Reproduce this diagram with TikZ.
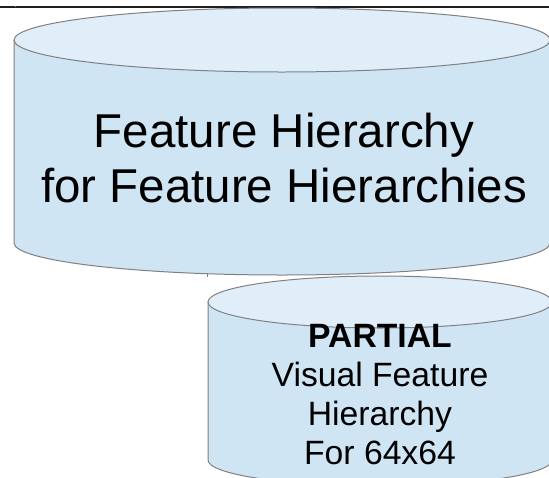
\documentclass[tikz,border=0pt]{standalone}
\usepackage{fontspec}
\setmainfont{Liberation Sans}
\definecolor{cylbody}{RGB}{207,229,244}
\definecolor{cyltop}{RGB}{224,238,249}
\definecolor{cyledge}{RGB}{128,128,128}
\definecolor{rulecol}{RGB}{30,30,30}
\tikzset{
  cylbodystyle/.style={fill=cylbody, draw=cyledge, line width=1pt, line join=round},
  cyltopstyle/.style={fill=cyltop, draw=cyledge, line width=1pt},
  bigtext/.style={anchor=base, inner sep=0pt, font=\fontsize{47.5}{54.6}\selectfont},
  smalltext/.style={anchor=base, inner sep=0pt, font=\fontsize{33.7}{38.8}\selectfont},
}
\begin{document}
\begin{tikzpicture}[x=1pt, y=-1pt]
\useasboundingbox (0,0) rectangle (549,477);
\clip (0,0) rectangle (549,477);

% rule across the top
\draw[rulecol, line width=1.4pt] (0,7) -- (549,7);
\draw[cyledge, line width=0.6pt] (15,5.5) -- (15,7);

% upper cylinder: body, then top face
\fill[cylbody] (14,40) -- (14,243) arc[start angle=180, end angle=360, x radius=268pt, y radius=32pt] -- (550,40) -- cycle;
\draw[cyledge, line width=1pt] (14,40) -- (14,243) arc[start angle=180, end angle=360, x radius=268pt, y radius=32pt] -- (550,40);
\draw[cyltopstyle] (282,40) ellipse [x radius=268pt, y radius=32pt];
\draw[cyledge, line width=0.6pt] (207,273) -- (207,277);

% lower cylinder: body, then top face
\fill[cylbody] (208,302) -- (208,460) arc[start angle=180, end angle=360, x radius=172pt, y radius=26pt] -- (552,302) -- cycle;
\draw[cyledge, line width=1pt] (208,302) -- (208,460) arc[start angle=180, end angle=360, x radius=172pt, y radius=26pt] -- (552,302);
\draw[cyltopstyle] (380,302) ellipse [x radius=172pt, y radius=26pt];

% labels
\node[bigtext] (upA) at (284,147) {Feature Hierarchy};
\node[bigtext] (upB) at (284,202) {for Feature Hierarchies};

\node[smalltext, font=\fontsize{33.7}{38.8}\selectfont\bfseries] (loA) at (380,347) {PARTIAL};
\node[smalltext] (loB) at (380,386.3) {Visual Feature};
\node[smalltext] (loC) at (380,425.6) {Hierarchy};
\node[smalltext] (loD) at (380,464.9) {For 64x64};
\end{tikzpicture}
\end{document}
